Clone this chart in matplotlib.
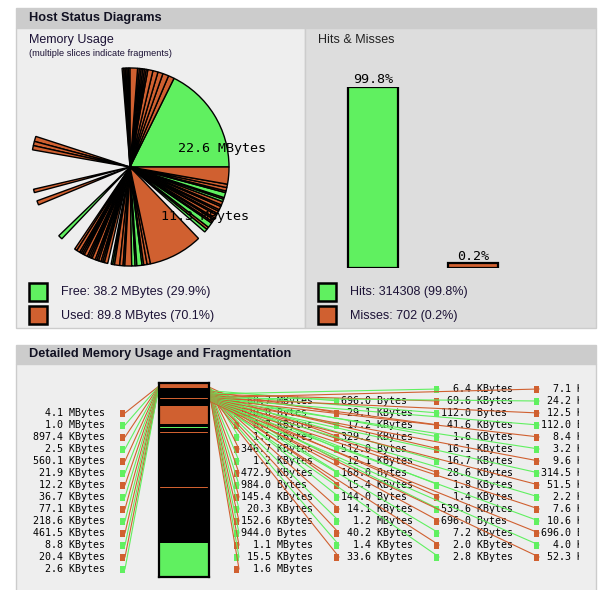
import matplotlib
matplotlib.use('Agg')
import matplotlib.pyplot as plt
from matplotlib.patches import Rectangle
import numpy as np

W, H = 612, 590
GREEN = '#60f060'
RED = '#d06030'
INK = '#1c1236'
MONO = 'DejaVu Sans Mono'
SANS = 'Liberation Sans'

# pie slices as drawn, degrees counterclockwise from east
# F = free block, U = used block, - = slice the renderer left blank
pie_deg = [63.6,
           3.5, 3.5, 3, 3, 3, 1, 1, 1, 1, 1, 1, 4.5, 0.9, 0.9, 0.9, 0.9, 0.9,
           67.4,
           3, 2.5, 2.5,
           23, 2, 5, 2.5, 21.5, 2.5, 9.5,
           1.5, 2, 1, 1, 1, 2, 1, 1, 1, 2, 1, 1, 1.5, 1, 1, 2,
           2,
           1, 1, 3, 2, 1, 4, 2, 1, 3, 1, 2, 2,
           31.8,
           5.2,
           2, 1.5, 3, 1, 1.5, 1, 2, 1, 1.5, 1, 2, 1, 2, 1.5, 1, 3, 1, 2, 2,
           10]
pie_kind = ('F'
            'UUUUUUUUUUUUUUUUU'
            '-'
            'UUU'
            '-U-U-F-'
            'UUUUUUUUUUUUUUUU'
            '-'
            'FFUUUUFFFFUU'
            'U'
            '-'
            'FUFUUUUUUUUUUFUFUUU'
            'U')
pie_labels = ['22.6 MBytes', '11.3 MBytes']

free_mb, free_pct = 38.2, 29.9
used_mb, used_pct = 89.8, 70.1

hit_names = ['Hits', 'Misses']
hit_counts = [314308, 702]
hit_pct = [99.8, 0.2]

# shared memory column, top to bottom, MB (B = run of tiny fragments)
col_mb = [3.3, 6.3, 0.7, 5.2, 11.3, 2.3, 0.6, 2.6, 0.6, 35.7, 0.6, 36.2, 22.6]
col_kind = ['U', 'B', 'U', 'B', 'U', 'B', 'F', 'B', 'U', 'B', 'U', 'B', 'F']

frag_left = ['4.1 MBytes', '1.0 MBytes', '897.4 KBytes', '2.5 KBytes',
             '560.1 KBytes', '21.9 KBytes', '12.2 KBytes', '36.7 KBytes',
             '77.1 KBytes', '218.6 KBytes', '461.5 KBytes', '8.8 KBytes',
             '20.4 KBytes', '2.6 KBytes']
frag_c2 = ['60.7 MBytes', '520.0 Bytes', '8.7 KBytes', '1.5 KBytes',
           '346.7 KBytes', '1.2 KBytes', '472.9 KBytes', '984.0 Bytes',
           '145.4 KBytes', '20.3 KBytes', '152.6 KBytes', '944.0 Bytes',
           '1.1 MBytes', '15.5 KBytes', '1.6 MBytes']
frag_c3 = ['696.0 Bytes', '29.1 KBytes', '17.2 KBytes', '329.2 KBytes',
           '512.0 Bytes', '12.1 KBytes', '168.0 Bytes', '15.4 KBytes',
           '144.0 Bytes', '14.1 KBytes', '1.2 MBytes', '40.2 KBytes',
           '1.4 KBytes', '33.6 KBytes']
frag_c4 = ['6.4 KBytes', '69.6 KBytes', '112.0 Bytes', '41.6 KBytes',
           '1.6 KBytes', '16.1 KBytes', '16.7 KBytes', '28.6 KBytes',
           '1.8 KBytes', '1.4 KBytes', '539.6 KBytes', '696.0 Bytes',
           '7.2 KBytes', '2.0 KBytes', '2.8 KBytes']
frag_c5 = ['7.1 KBytes', '24.2 KBytes', '12.5 KBytes', '112.0 Bytes',
           '8.4 KBytes', '3.2 KBytes', '9.6 KBytes', '314.5 KBytes',
           '51.5 KBytes', '2.2 KBytes', '7.6 KBytes', '10.6 KBytes',
           '696.0 Bytes', '4.0 KBytes', '52.3 KBytes']


def px_axes(x0, y0, x1, y1):
    return fig.add_axes([x0 / W, 1 - y1 / H, (x1 - x0) / W, (y1 - y0) / H])


fig = plt.figure(figsize=(W / 100, H / 100), dpi=100)
fig.patch.set_facecolor('white')
page = fig.add_axes([0, 0, 1, 1])
page.set_xlim(0, W)
page.set_ylim(H, 0)
page.axis('off')

# boxes of the page
for (x0, y0, x1, y1, fc) in [(16, 8, 596, 28, '#cccccc'),
                             (16, 28, 305, 328, '#eeeeee'),
                             (305, 28, 596, 328, '#dddddd'),
                             (16, 345, 596, 364, '#cccccc'),
                             (16, 364, 596, 592, '#eeeeee')]:
    page.add_patch(Rectangle((x0, y0), x1 - x0, y1 - y0, facecolor=fc,
                             edgecolor='#cccccc', linewidth=1, zorder=0))

page.text(29, 18.5, 'Host Status Diagrams', fontsize=9.2, fontweight='bold',
          family=SANS, color='#111122', va='center')
page.text(29, 354.5, 'Detailed Memory Usage and Fragmentation', fontsize=9.2,
          fontweight='bold', family=SANS, color='#111122', va='center')
page.text(29, 40, 'Memory Usage', fontsize=9, family=SANS, color=INK, va='center')
page.text(29, 53, '(multiple slices indicate fragments)', fontsize=6.7,
          family=SANS, color=INK, va='center')
page.text(318, 40, 'Hits & Misses', fontsize=9, family=SANS, color='#222222',
          va='center')

# legends
legend_rows = [
    (29, 61, GREEN, f'Free: {free_mb} MBytes ({free_pct}%)'),
    (29, 61, RED, f'Used: {used_mb} MBytes ({used_pct}%)'),
    (318, 350, GREEN, f'{hit_names[0]}: {hit_counts[0]} ({hit_pct[0]}%)'),
    (318, 350, RED, f'{hit_names[1]}: {hit_counts[1]} ({hit_pct[1]}%)'),
]
for i, (bx, tx, c, s) in enumerate(legend_rows):
    y = 283 + 23 * (i % 2)
    page.add_patch(Rectangle((bx, y), 18, 18, facecolor=c, edgecolor='black',
                             linewidth=1.8, zorder=2))
    page.text(tx, y + 9.5, s, fontsize=9, family=SANS, color=INK, va='center')

# pie
pax = px_axes(30, 67, 230, 267)
pie_colors = [{'F': GREEN, 'U': RED, '-': 'none'}[k] for k in pie_kind]
wedges, _ = pax.pie(pie_deg, colors=pie_colors, startangle=0, counterclock=True,
                    wedgeprops=dict(edgecolor='black', linewidth=1.0))
for w, k in zip(wedges, pie_kind):
    if k == '-':
        w.set_visible(False)
pax.set_xlim(-1.01, 1.01)
pax.set_ylim(-1.01, 1.01)
pax.set_aspect('auto')
pax.axis('off')
pax.text(0.93, 0.19, pie_labels[0], fontsize=9.6, family=MONO, ha='center',
         va='center')
pax.text(0.76, -0.50, pie_labels[1], fontsize=9.6, family=MONO, ha='center',
         va='center')

# hits & misses bars
bax = px_axes(323, 86.6, 523, 268)
shown = [max(v, 2.5) for v in hit_pct]
bax.bar([0, 1], shown, width=0.5, color=[GREEN, RED], edgecolor='black',
        linewidth=1.6)
for i, v in enumerate(hit_pct):
    bax.annotate(f'{v}%', (i, shown[i]), xytext=(0, 0.5), textcoords='offset points',
                 ha='center', va='bottom', fontsize=9.6, family=MONO)
bax.set_xlim(-0.5, 1.5)
bax.set_ylim(0, 100)
bax.axis('off')

# fragmentation column
cax = px_axes(159, 383, 209, 577)
kind_color = {'U': RED, 'F': GREEN, 'B': 'black'}
bottom = np.concatenate([[0], np.cumsum(col_mb)[:-1]])
cax.bar(0, col_mb, bottom=bottom, width=1.0,
        color=[kind_color[k] for k in col_kind], linewidth=0)
cax.set_xlim(-0.5, 0.5)
cax.set_ylim(sum(col_mb), 0)
cax.set_xticks([])
cax.set_yticks([])
for sp in cax.spines.values():
    sp.set_color('black')
    sp.set_linewidth(1.6)

# labels of the fragments
clip = Rectangle((0, 0), 579, H, transform=page.transData)
columns = [(frag_left, 2, 125, 33), (frag_c2, 1, 239, 241),
           (frag_c3, 1, 339, 341), (frag_c4, 0, 439, 441),
           (frag_c5, 0, 539, 541)]
n_right = sum(len(c[0]) for c in columns[1:])
start_y = np.linspace(387, 401, n_right)
k = 0
idx = 0
for ci, (labels, row0, mx, tx) in enumerate(columns):
    for r, s in enumerate(labels):
        y = 389 + 12 * (row0 + r)
        c = RED if idx % 2 == 0 else GREEN
        idx += 1
        page.add_patch(Rectangle((mx - 5, y - 3), 5, 7, facecolor=c,
                                 edgecolor='none', zorder=4))
        if ci == 0:
            page.plot([159, mx], [386, y], color=c, lw=0.8, zorder=5)
        else:
            page.plot([209, mx], [start_y[k], y], color=c, lw=0.8, zorder=5)
            k += 1
        num, unit = s.split(' ')
        t = page.text(tx, y + 0.5, f'{num:>5} {unit}', fontsize=7.2, family=MONO,
                      va='center', ha='left', color='black', zorder=3,
                      clip_on=True)
        t.set_clip_path(clip)

fig.savefig('out.png', dpi=100, facecolor='white')
